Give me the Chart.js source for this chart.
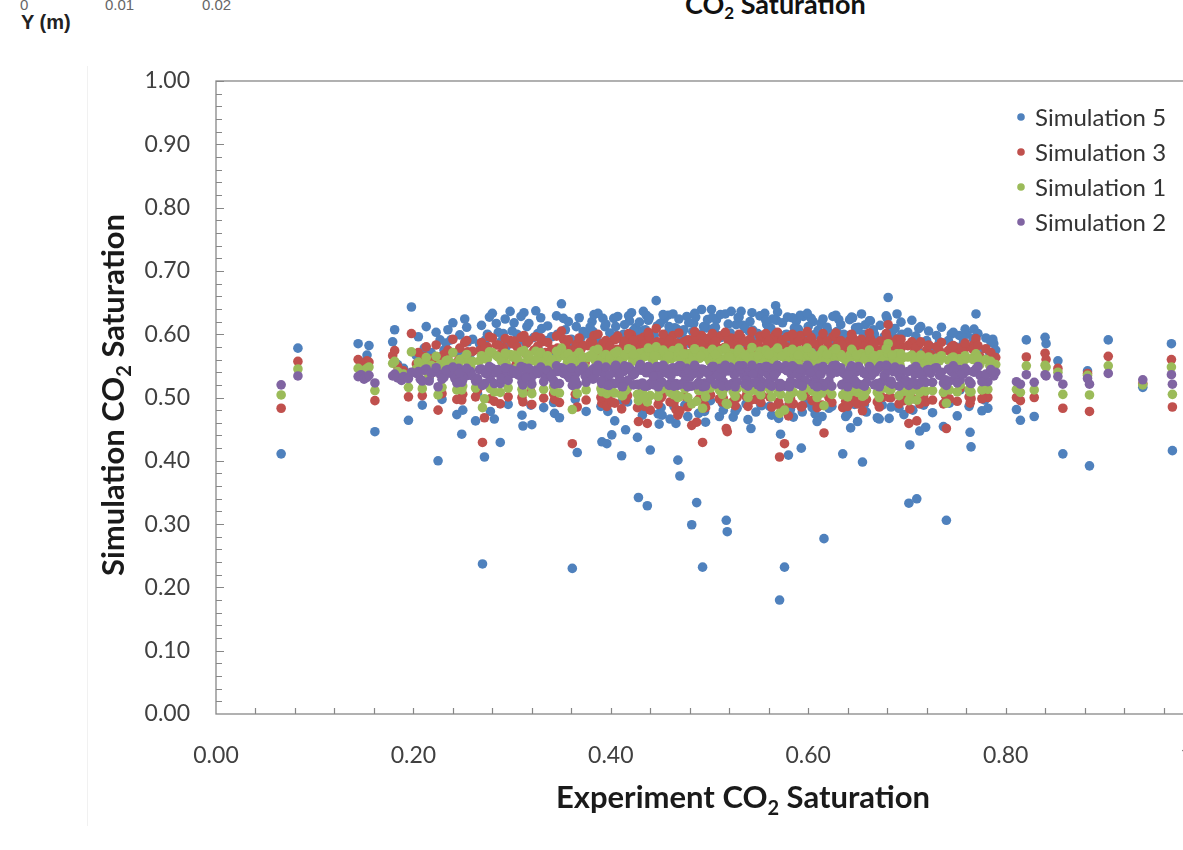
<!DOCTYPE html>
<html lang="en">
<head>
    <meta charset="UTF-8">
    <title>Simulation vs Experiment CO2 Saturation</title>
    <script src="https://cdn.jsdelivr.net/npm/chart.js"></script>
    <style>
        body {
            margin: 0;
            background: white;
            overflow: hidden;
            width: 1183px;
            height: 850px;
            position: relative;
            font-family: 'Lato', sans-serif;
        }

        .frag {
            position: absolute;
            top: -3px;
            font-family: 'Liberation Sans', Arial, sans-serif;
            color: #666;
            font-size: 15px;
            line-height: 1;
        }

        .ylab {
            position: absolute;
            left: 21px;
            top: 11px;
            font-family: 'Liberation Sans', Arial, sans-serif;
            font-weight: bold;
            font-size: 20px;
            color: #222;
        }

        .toptitle {
            position: absolute;
            left: 685px;
            top: -13px;
            font-family: 'Lato', sans-serif;
            font-weight: bold;
            font-size: 27px;
            color: #111;
            white-space: nowrap;
        }

        .toptitle sub {
            font-size: 17px;
            vertical-align: -5px;
        }

        .sheet {
            position: absolute;
            left: 87px;
            top: 66px;
            width: 1200px;
            height: 760px;
            border-left: 1px solid #f1f1f1;
        }

        #satChart {
            position: absolute;
            left: 0;
            top: 0;
        }
    </style>
</head>
<body>
    <!-- bits of the figure above, cut off by the crop -->
    <div class="frag" style="left:20px;">0</div>
    <div class="frag" style="left:105px;">0.01</div>
    <div class="frag" style="left:202px;">0.02</div>
    <div class="ylab">Y (m)</div>
    <div class="toptitle">CO<sub>2</sub> Saturation</div>
    <div class="sheet"></div>

    <canvas id="satChart" width="1240" height="850"></canvas>

    <script>
        // experiment saturation, one entry per measured cell
        const expSat = [
            0.066, 0.083, 0.144, 0.147, 0.150, 0.153, 0.155, 0.161, 0.179, 0.181,
            0.184, 0.188, 0.190, 0.195, 0.198, 0.203, 0.207, 0.211, 0.216, 0.221,
            0.225, 0.227, 0.231, 0.235, 0.238, 0.242, 0.246, 0.249, 0.250, 0.252,
            0.255, 0.258, 0.263, 0.267, 0.270, 0.272, 0.275, 0.278, 0.280, 0.284,
            0.288, 0.291, 0.294, 0.298, 0.300, 0.304, 0.307, 0.310, 0.311, 0.312,
            0.315, 0.319, 0.322, 0.324, 0.327, 0.330, 0.334, 0.338, 0.342, 0.343,
            0.346, 0.350, 0.352, 0.356, 0.358, 0.361, 0.363, 0.365, 0.366, 0.370,
            0.374, 0.377, 0.381, 0.384, 0.388, 0.391, 0.392, 0.394, 0.396, 0.397,
            0.401, 0.403, 0.406, 0.409, 0.411, 0.413, 0.415, 0.419, 0.422, 0.425,
            0.427, 0.428, 0.431, 0.433, 0.436, 0.437, 0.440, 0.442, 0.446, 0.449,
            0.450, 0.452, 0.455, 0.458, 0.461, 0.465, 0.466, 0.468, 0.470, 0.473,
            0.477, 0.480, 0.482, 0.484, 0.487, 0.490, 0.492, 0.493, 0.495, 0.497,
            0.500, 0.502, 0.505, 0.507, 0.510, 0.512, 0.515, 0.517, 0.518, 0.522,
            0.525, 0.527, 0.528, 0.532, 0.535, 0.538, 0.540, 0.542, 0.545, 0.548,
            0.550, 0.553, 0.556, 0.559, 0.562, 0.565, 0.567, 0.568, 0.571, 0.572,
            0.576, 0.578, 0.580, 0.583, 0.585, 0.588, 0.591, 0.593, 0.595, 0.598,
            0.602, 0.604, 0.605, 0.608, 0.611, 0.614, 0.616, 0.620, 0.623, 0.627,
            0.631, 0.635, 0.636, 0.639, 0.642, 0.643, 0.648, 0.650, 0.652, 0.654,
            0.655, 0.658, 0.661, 0.664, 0.668, 0.671, 0.675, 0.678, 0.681, 0.682,
            0.686, 0.690, 0.693, 0.695, 0.699, 0.702, 0.703, 0.705, 0.708, 0.710,
            0.712, 0.713, 0.716, 0.719, 0.720, 0.724, 0.728, 0.733, 0.737, 0.740,
            0.743, 0.745, 0.749, 0.753, 0.754, 0.757, 0.761, 0.764, 0.765, 0.768,
            0.770, 0.774, 0.779, 0.782, 0.784, 0.787, 0.788, 0.811, 0.815, 0.821,
            0.829, 0.840, 0.841, 0.853, 0.858, 0.883, 0.885, 0.904, 0.939, 0.968,
            0.969,
            // cells in between, inside the crowded middle
            0.205, 0.209, 0.213, 0.218, 0.223, 0.229, 0.233, 0.240, 0.244, 0.247,
            0.254, 0.260, 0.265, 0.269, 0.273, 0.277, 0.282, 0.286, 0.289, 0.293,
            0.296, 0.302, 0.305, 0.309, 0.314, 0.317, 0.320, 0.326, 0.329, 0.332,
            0.336, 0.340, 0.345, 0.348, 0.354, 0.357, 0.360, 0.364, 0.368, 0.372,
            0.375, 0.379, 0.383, 0.386, 0.390, 0.395, 0.399, 0.404, 0.407, 0.410,
            0.414, 0.417, 0.421, 0.424, 0.429, 0.432, 0.435, 0.439, 0.443, 0.447,
            0.451, 0.454, 0.457, 0.460, 0.463, 0.467, 0.471, 0.475, 0.479, 0.483,
            0.486, 0.489, 0.494, 0.498, 0.501, 0.504, 0.508, 0.511, 0.514, 0.519,
            0.521, 0.524, 0.529, 0.531, 0.534, 0.537, 0.541, 0.544, 0.547, 0.551,
            0.554, 0.558, 0.561, 0.564, 0.566, 0.570, 0.574, 0.577, 0.579, 0.582,
            0.586, 0.589, 0.592, 0.597, 0.600, 0.603, 0.607, 0.610, 0.613, 0.618,
            0.621, 0.625, 0.629, 0.633, 0.638, 0.641, 0.645, 0.647, 0.651, 0.656,
            0.659, 0.663, 0.666, 0.670, 0.673, 0.677, 0.680, 0.684, 0.688, 0.691,
            0.694, 0.697, 0.701, 0.706, 0.709, 0.714, 0.717, 0.722, 0.726, 0.730,
            0.735, 0.739, 0.742, 0.747, 0.751, 0.756, 0.759, 0.763, 0.767, 0.772,
            0.776, 0.780, 0.785, 0.790,
            // densest stretch, 0.38 - 0.70
            0.382, 0.387, 0.398, 0.405, 0.412, 0.418, 0.423, 0.430, 0.434, 0.438,
            0.444, 0.448, 0.453, 0.459, 0.464, 0.469, 0.474, 0.478, 0.485, 0.491,
            0.496, 0.503, 0.506, 0.513, 0.516, 0.520, 0.526, 0.530, 0.536, 0.539,
            0.543, 0.549, 0.552, 0.557, 0.560, 0.563, 0.569, 0.573, 0.581, 0.584,
            0.590, 0.594, 0.599, 0.606, 0.609, 0.615, 0.619, 0.624, 0.628, 0.634,
            0.640, 0.644, 0.649, 0.657, 0.662, 0.667, 0.672, 0.679, 0.685, 0.692
        ];

        const sim5 = [
            0.411, 0.578, 0.585, 0.548, 0.556, 0.567, 0.582, 0.446, 0.588, 0.607,
            0.552, 0.530, 0.546, 0.464, 0.643, 0.566, 0.552, 0.578, 0.531, 0.560,
            0.400, 0.591, 0.575, 0.607, 0.591, 0.545, 0.572, 0.442, 0.480, 0.624,
            0.588, 0.570, 0.463, 0.585, 0.237, 0.406, 0.600, 0.478, 0.633, 0.617,
            0.429, 0.601, 0.580, 0.636, 0.605, 0.560, 0.590, 0.472, 0.455, 0.634,
            0.612, 0.488, 0.595, 0.637, 0.575, 0.609, 0.590, 0.565, 0.492, 0.475,
            0.600, 0.648, 0.625, 0.585, 0.540, 0.230, 0.580, 0.612, 0.413, 0.595,
            0.560, 0.600, 0.620, 0.590, 0.570, 0.430, 0.625, 0.612, 0.427, 0.478,
            0.441, 0.625, 0.598, 0.545, 0.408, 0.600, 0.449, 0.621, 0.590, 0.610,
            0.437, 0.342, 0.605, 0.636, 0.630, 0.329, 0.417, 0.600, 0.653, 0.458,
            0.617, 0.472, 0.590, 0.630, 0.600, 0.610, 0.459, 0.401, 0.376, 0.595,
            0.628, 0.585, 0.299, 0.617, 0.334, 0.600, 0.639, 0.232, 0.478, 0.610,
            0.590, 0.639, 0.580, 0.623, 0.470, 0.595, 0.600, 0.306, 0.288, 0.636,
            0.590, 0.615, 0.483, 0.636, 0.585, 0.500, 0.605, 0.451, 0.590, 0.600,
            0.548, 0.487, 0.633, 0.580, 0.610, 0.590, 0.645, 0.622, 0.180, 0.442,
            0.232, 0.600, 0.409, 0.590, 0.469, 0.621, 0.570, 0.420, 0.628, 0.600,
            0.585, 0.484, 0.620, 0.575, 0.600, 0.470, 0.277, 0.605, 0.590, 0.580,
            0.623, 0.411, 0.600, 0.585, 0.623, 0.452, 0.610, 0.462, 0.590, 0.632,
            0.398, 0.615, 0.580, 0.600, 0.575, 0.590, 0.488, 0.560, 0.658, 0.467,
            0.595, 0.632, 0.570, 0.600, 0.500, 0.333, 0.425, 0.622, 0.590, 0.340,
            0.609, 0.447, 0.570, 0.453, 0.590, 0.580, 0.570, 0.588, 0.454, 0.306,
            0.491, 0.600, 0.580, 0.598, 0.512, 0.585, 0.600, 0.445, 0.422, 0.608,
            0.632, 0.575, 0.496, 0.483, 0.570, 0.592, 0.585, 0.481, 0.464, 0.591,
            0.470, 0.595, 0.585, 0.558, 0.411, 0.542, 0.392, 0.591, 0.516, 0.585,
            0.416,
            0.596, 0.488, 0.612, 0.571, 0.603, 0.497, 0.586, 0.618, 0.473, 0.599,
            0.611, 0.592, 0.506, 0.614, 0.591, 0.627, 0.466, 0.603, 0.589, 0.624,
            0.489, 0.618, 0.600, 0.628, 0.585, 0.617, 0.457, 0.601, 0.626, 0.484,
            0.613, 0.596, 0.629, 0.468, 0.607, 0.620, 0.592, 0.497, 0.626, 0.604,
            0.478, 0.611, 0.631, 0.597, 0.486, 0.616, 0.602, 0.463, 0.628, 0.593,
            0.615, 0.493, 0.634, 0.600, 0.619, 0.472, 0.607, 0.626, 0.589, 0.613,
            0.484, 0.624, 0.601, 0.466, 0.632, 0.608, 0.596, 0.488, 0.618, 0.604,
            0.627, 0.475, 0.612, 0.623, 0.495, 0.609, 0.598, 0.631, 0.480, 0.616,
            0.602, 0.469, 0.626, 0.592, 0.614, 0.490, 0.620, 0.606, 0.477, 0.629,
            0.596, 0.615, 0.486, 0.624, 0.603, 0.467, 0.618, 0.599, 0.627, 0.481,
            0.610, 0.594, 0.630, 0.491, 0.612, 0.625, 0.474, 0.606, 0.617, 0.592,
            0.483, 0.628, 0.604, 0.615, 0.470, 0.598, 0.626, 0.489, 0.611, 0.600,
            0.477, 0.621, 0.607, 0.468, 0.614, 0.596, 0.625, 0.485, 0.609, 0.594,
            0.619, 0.473, 0.603, 0.480, 0.597, 0.612, 0.488, 0.605, 0.476, 0.598,
            0.611, 0.492, 0.590, 0.603, 0.471, 0.596, 0.608, 0.486, 0.593, 0.601,
            0.479, 0.594, 0.588, 0.575,
            0.604, 0.633, 0.587, 0.612, 0.495, 0.629, 0.606, 0.588, 0.480, 0.622,
            0.598, 0.474, 0.631, 0.612, 0.486, 0.624, 0.607, 0.470, 0.633, 0.598,
            0.461, 0.626, 0.611, 0.491, 0.632, 0.594, 0.478, 0.627, 0.609, 0.465,
            0.634, 0.601, 0.488, 0.622, 0.610, 0.472, 0.635, 0.597, 0.490, 0.626,
            0.608, 0.477, 0.633, 0.599, 0.462, 0.624, 0.611, 0.486, 0.630, 0.596,
            0.474, 0.627, 0.607, 0.489, 0.621, 0.600, 0.466, 0.629, 0.605, 0.483
        ];

        const sim3 = [
            0.483, 0.557, 0.560, 0.544, 0.551, 0.558, 0.556, 0.495, 0.566, 0.574,
            0.549, 0.533, 0.542, 0.501, 0.601, 0.553, 0.547, 0.565, 0.534, 0.556,
            0.480, 0.564, 0.568, 0.575, 0.570, 0.545, 0.560, 0.496, 0.505, 0.587,
            0.572, 0.557, 0.501, 0.574, 0.429, 0.468, 0.580, 0.498, 0.594, 0.583,
            0.490, 0.579, 0.567, 0.590, 0.585, 0.552, 0.572, 0.500, 0.493, 0.598,
            0.586, 0.509, 0.575, 0.596, 0.563, 0.588, 0.571, 0.558, 0.506, 0.497,
            0.578, 0.605, 0.592, 0.570, 0.541, 0.427, 0.568, 0.584, 0.485, 0.577,
            0.555, 0.582, 0.589, 0.574, 0.561, 0.491, 0.586, 0.579, 0.486, 0.500,
            0.493, 0.591, 0.576, 0.544, 0.482, 0.583, 0.496, 0.588, 0.573, 0.581,
            0.484, 0.462, 0.579, 0.595, 0.589, 0.459, 0.480, 0.577, 0.609, 0.498,
            0.586, 0.503, 0.574, 0.592, 0.578, 0.584, 0.481, 0.472, 0.479, 0.576,
            0.590, 0.569, 0.456, 0.585, 0.461, 0.580, 0.598, 0.429, 0.488, 0.584,
            0.575, 0.596, 0.567, 0.590, 0.498, 0.577, 0.579, 0.451, 0.446, 0.594,
            0.575, 0.586, 0.500, 0.595, 0.572, 0.510, 0.582, 0.496, 0.574, 0.580,
            0.546, 0.503, 0.593, 0.568, 0.584, 0.575, 0.600, 0.588, 0.406, 0.485,
            0.427, 0.580, 0.471, 0.575, 0.490, 0.588, 0.562, 0.485, 0.590, 0.580,
            0.572, 0.495, 0.586, 0.565, 0.580, 0.488, 0.444, 0.582, 0.575, 0.568,
            0.588, 0.484, 0.580, 0.572, 0.590, 0.492, 0.584, 0.490, 0.575, 0.592,
            0.479, 0.585, 0.568, 0.580, 0.565, 0.575, 0.500, 0.555, 0.615, 0.500,
            0.577, 0.592, 0.562, 0.580, 0.510, 0.459, 0.482, 0.588, 0.575, 0.463,
            0.583, 0.490, 0.562, 0.493, 0.575, 0.568, 0.560, 0.574, 0.490, 0.451,
            0.498, 0.580, 0.570, 0.578, 0.515, 0.572, 0.580, 0.491, 0.498, 0.584,
            0.593, 0.565, 0.505, 0.500, 0.560, 0.564, 0.562, 0.500, 0.495, 0.564,
            0.500, 0.570, 0.560, 0.546, 0.483, 0.538, 0.478, 0.565, 0.522, 0.560,
            0.485,
            0.571, 0.503, 0.580, 0.561, 0.583, 0.506, 0.569, 0.592, 0.497, 0.578,
            0.590, 0.573, 0.512, 0.587, 0.577, 0.596, 0.494, 0.583, 0.570, 0.593,
            0.501, 0.589, 0.580, 0.595, 0.569, 0.590, 0.489, 0.581, 0.594, 0.499,
            0.587, 0.576, 0.597, 0.492, 0.584, 0.591, 0.575, 0.505, 0.594, 0.582,
            0.496, 0.587, 0.598, 0.578, 0.500, 0.590, 0.581, 0.491, 0.597, 0.575,
            0.589, 0.503, 0.599, 0.580, 0.592, 0.495, 0.585, 0.596, 0.571, 0.588,
            0.500, 0.594, 0.582, 0.493, 0.598, 0.586, 0.577, 0.502, 0.591, 0.583,
            0.596, 0.497, 0.588, 0.593, 0.504, 0.586, 0.578, 0.597, 0.499, 0.590,
            0.581, 0.494, 0.595, 0.574, 0.589, 0.502, 0.592, 0.584, 0.497, 0.597,
            0.578, 0.590, 0.501, 0.594, 0.583, 0.493, 0.591, 0.579, 0.596, 0.499,
            0.587, 0.576, 0.598, 0.503, 0.588, 0.595, 0.496, 0.584, 0.591, 0.575,
            0.500, 0.596, 0.583, 0.590, 0.494, 0.579, 0.595, 0.502, 0.588, 0.581,
            0.497, 0.593, 0.585, 0.493, 0.589, 0.578, 0.595, 0.500, 0.586, 0.576,
            0.592, 0.495, 0.582, 0.498, 0.579, 0.588, 0.501, 0.583, 0.496, 0.580,
            0.587, 0.503, 0.574, 0.582, 0.494, 0.578, 0.586, 0.501, 0.576, 0.582,
            0.498, 0.577, 0.571, 0.563,
            0.585, 0.600, 0.568, 0.592, 0.507, 0.601, 0.590, 0.567, 0.486, 0.603,
            0.586, 0.489, 0.600, 0.590, 0.492, 0.602, 0.588, 0.485, 0.604, 0.584,
            0.484, 0.601, 0.589, 0.493, 0.603, 0.582, 0.487, 0.600, 0.588, 0.486,
            0.604, 0.585, 0.492, 0.601, 0.589, 0.485, 0.603, 0.584, 0.491, 0.600,
            0.588, 0.487, 0.604, 0.585, 0.484, 0.601, 0.589, 0.492, 0.602, 0.583,
            0.486, 0.600, 0.588, 0.493, 0.602, 0.586, 0.485, 0.601, 0.587, 0.490
        ];

        const sim1 = [
            0.504, 0.545, 0.546, 0.540, 0.543, 0.546, 0.548, 0.511, 0.554, 0.557,
            0.541, 0.536, 0.537, 0.516, 0.572, 0.545, 0.541, 0.552, 0.535, 0.548,
            0.504, 0.552, 0.549, 0.559, 0.555, 0.540, 0.553, 0.512, 0.518, 0.563,
            0.556, 0.549, 0.515, 0.558, 0.484, 0.498, 0.561, 0.514, 0.571, 0.566,
            0.508, 0.562, 0.553, 0.568, 0.564, 0.546, 0.557, 0.513, 0.507, 0.574,
            0.566, 0.518, 0.558, 0.573, 0.551, 0.567, 0.557, 0.547, 0.517, 0.510,
            0.562, 0.578, 0.569, 0.555, 0.539, 0.481, 0.553, 0.566, 0.506, 0.560,
            0.548, 0.563, 0.567, 0.559, 0.551, 0.509, 0.565, 0.561, 0.506, 0.515,
            0.510, 0.569, 0.560, 0.541, 0.503, 0.563, 0.511, 0.567, 0.557, 0.565,
            0.505, 0.495, 0.562, 0.571, 0.568, 0.493, 0.503, 0.561, 0.580, 0.512,
            0.566, 0.514, 0.558, 0.570, 0.561, 0.564, 0.505, 0.500, 0.502, 0.559,
            0.568, 0.556, 0.490, 0.565, 0.494, 0.562, 0.573, 0.483, 0.508, 0.564,
            0.558, 0.571, 0.554, 0.567, 0.512, 0.560, 0.561, 0.491, 0.489, 0.570,
            0.558, 0.565, 0.514, 0.571, 0.556, 0.518, 0.562, 0.511, 0.558, 0.562,
            0.541, 0.515, 0.569, 0.554, 0.564, 0.559, 0.574, 0.566, 0.475, 0.505,
            0.480, 0.562, 0.498, 0.558, 0.508, 0.566, 0.551, 0.505, 0.568, 0.562,
            0.556, 0.510, 0.566, 0.552, 0.562, 0.507, 0.487, 0.563, 0.558, 0.554,
            0.567, 0.504, 0.562, 0.556, 0.567, 0.509, 0.564, 0.508, 0.558, 0.569,
            0.502, 0.565, 0.554, 0.562, 0.552, 0.558, 0.514, 0.547, 0.585, 0.512,
            0.560, 0.569, 0.551, 0.562, 0.518, 0.495, 0.505, 0.567, 0.558, 0.496,
            0.564, 0.508, 0.551, 0.510, 0.558, 0.554, 0.550, 0.558, 0.508, 0.491,
            0.512, 0.562, 0.555, 0.561, 0.520, 0.556, 0.562, 0.509, 0.509, 0.564,
            0.569, 0.552, 0.515, 0.513, 0.550, 0.553, 0.552, 0.513, 0.508, 0.550,
            0.512, 0.551, 0.548, 0.540, 0.505, 0.535, 0.504, 0.550, 0.520, 0.548,
            0.505,
            0.556, 0.514, 0.563, 0.551, 0.565, 0.516, 0.558, 0.571, 0.512, 0.560,
            0.568, 0.557, 0.519, 0.566, 0.561, 0.572, 0.509, 0.564, 0.558, 0.570,
            0.515, 0.567, 0.562, 0.572, 0.555, 0.567, 0.506, 0.563, 0.571, 0.513,
            0.566, 0.560, 0.573, 0.507, 0.565, 0.569, 0.559, 0.516, 0.571, 0.564,
            0.512, 0.566, 0.574, 0.561, 0.514, 0.568, 0.563, 0.507, 0.573, 0.559,
            0.568, 0.515, 0.575, 0.562, 0.570, 0.510, 0.565, 0.572, 0.558, 0.567,
            0.513, 0.571, 0.563, 0.508, 0.574, 0.566, 0.561, 0.514, 0.569, 0.564,
            0.572, 0.511, 0.567, 0.570, 0.515, 0.566, 0.561, 0.574, 0.512, 0.568,
            0.563, 0.509, 0.572, 0.559, 0.567, 0.514, 0.570, 0.565, 0.511, 0.573,
            0.561, 0.568, 0.513, 0.571, 0.564, 0.508, 0.569, 0.562, 0.572, 0.513,
            0.566, 0.560, 0.574, 0.515, 0.567, 0.571, 0.510, 0.565, 0.569, 0.560,
            0.513, 0.573, 0.564, 0.568, 0.509, 0.562, 0.572, 0.514, 0.567, 0.563,
            0.511, 0.570, 0.565, 0.508, 0.568, 0.561, 0.571, 0.513, 0.566, 0.560,
            0.569, 0.510, 0.564, 0.512, 0.562, 0.567, 0.514, 0.564, 0.511, 0.562,
            0.566, 0.515, 0.559, 0.564, 0.509, 0.561, 0.566, 0.513, 0.560, 0.563,
            0.512, 0.560, 0.557, 0.552,
            0.566, 0.576, 0.552, 0.571, 0.503, 0.577, 0.568, 0.553, 0.501, 0.578,
            0.566, 0.502, 0.575, 0.566, 0.504, 0.578, 0.569, 0.500, 0.577, 0.565,
            0.501, 0.576, 0.568, 0.505, 0.578, 0.564, 0.502, 0.576, 0.567, 0.500,
            0.579, 0.566, 0.504, 0.575, 0.568, 0.501, 0.578, 0.565, 0.503, 0.576,
            0.567, 0.502, 0.578, 0.566, 0.500, 0.575, 0.568, 0.505, 0.577, 0.565,
            0.501, 0.576, 0.567, 0.504, 0.575, 0.566, 0.500, 0.577, 0.567, 0.503
        ];

        const sim2 = [
            0.520, 0.534, 0.533, 0.536, 0.529, 0.532, 0.535, 0.523, 0.534, 0.537,
            0.531, 0.527, 0.533, 0.530, 0.540, 0.538, 0.529, 0.543, 0.526, 0.540,
            0.517, 0.537, 0.532, 0.544, 0.538, 0.530, 0.546, 0.524, 0.528, 0.542,
            0.535, 0.541, 0.526, 0.544, 0.519, 0.522, 0.537, 0.529, 0.546, 0.539,
            0.522, 0.543, 0.533, 0.545, 0.538, 0.541, 0.535, 0.524, 0.520, 0.547,
            0.540, 0.528, 0.536, 0.543, 0.538, 0.544, 0.532, 0.539, 0.527, 0.521,
            0.541, 0.547, 0.538, 0.535, 0.531, 0.519, 0.542, 0.539, 0.521, 0.545,
            0.534, 0.540, 0.543, 0.536, 0.541, 0.522, 0.544, 0.533, 0.520, 0.527,
            0.523, 0.546, 0.538, 0.529, 0.518, 0.541, 0.525, 0.544, 0.535, 0.540,
            0.521, 0.520, 0.543, 0.547, 0.539, 0.518, 0.522, 0.542, 0.548, 0.526,
            0.537, 0.524, 0.541, 0.545, 0.534, 0.543, 0.522, 0.519, 0.521, 0.538,
            0.546, 0.532, 0.518, 0.541, 0.520, 0.537, 0.545, 0.517, 0.523, 0.542,
            0.535, 0.547, 0.540, 0.543, 0.524, 0.533, 0.541, 0.519, 0.518, 0.546,
            0.536, 0.542, 0.525, 0.544, 0.534, 0.528, 0.541, 0.523, 0.539, 0.545,
            0.531, 0.525, 0.543, 0.537, 0.546, 0.533, 0.547, 0.540, 0.517, 0.522,
            0.518, 0.543, 0.520, 0.536, 0.523, 0.545, 0.534, 0.521, 0.541, 0.546,
            0.538, 0.524, 0.543, 0.532, 0.540, 0.523, 0.518, 0.544, 0.536, 0.541,
            0.546, 0.521, 0.538, 0.533, 0.544, 0.523, 0.540, 0.522, 0.545, 0.542,
            0.520, 0.537, 0.543, 0.534, 0.540, 0.546, 0.525, 0.536, 0.548, 0.524,
            0.541, 0.544, 0.532, 0.539, 0.527, 0.519, 0.521, 0.545, 0.537, 0.520,
            0.542, 0.523, 0.534, 0.524, 0.543, 0.538, 0.546, 0.535, 0.523, 0.519,
            0.526, 0.541, 0.533, 0.544, 0.528, 0.537, 0.542, 0.523, 0.522, 0.540,
            0.545, 0.535, 0.526, 0.525, 0.539, 0.538, 0.534, 0.525, 0.521, 0.536,
            0.524, 0.536, 0.534, 0.533, 0.521, 0.530, 0.521, 0.538, 0.528, 0.536,
            0.521,
            0.541, 0.526, 0.545, 0.538, 0.547, 0.529, 0.543, 0.548, 0.523, 0.539,
            0.546, 0.534, 0.530, 0.545, 0.538, 0.549, 0.522, 0.544, 0.530, 0.547,
            0.527, 0.542, 0.537, 0.549, 0.531, 0.546, 0.521, 0.540, 0.548, 0.525,
            0.543, 0.535, 0.550, 0.522, 0.544, 0.540, 0.547, 0.528, 0.543, 0.549,
            0.524, 0.538, 0.546, 0.541, 0.526, 0.548, 0.536, 0.522, 0.545, 0.539,
            0.550, 0.527, 0.543, 0.537, 0.548, 0.523, 0.541, 0.546, 0.533, 0.549,
            0.525, 0.544, 0.538, 0.522, 0.547, 0.541, 0.550, 0.526, 0.543, 0.537,
            0.548, 0.524, 0.544, 0.539, 0.528, 0.549, 0.535, 0.546, 0.525, 0.542,
            0.548, 0.523, 0.540, 0.545, 0.550, 0.527, 0.543, 0.537, 0.524, 0.547,
            0.541, 0.549, 0.526, 0.544, 0.536, 0.522, 0.546, 0.550, 0.542, 0.525,
            0.547, 0.538, 0.545, 0.527, 0.549, 0.541, 0.523, 0.546, 0.537, 0.544,
            0.526, 0.550, 0.540, 0.547, 0.523, 0.536, 0.545, 0.527, 0.549, 0.539,
            0.524, 0.546, 0.541, 0.522, 0.550, 0.535, 0.544, 0.526, 0.548, 0.538,
            0.545, 0.523, 0.541, 0.525, 0.549, 0.536, 0.527, 0.544, 0.524, 0.547,
            0.540, 0.528, 0.545, 0.550, 0.523, 0.538, 0.546, 0.526, 0.541, 0.549,
            0.525, 0.537, 0.544, 0.540,
            0.529, 0.551, 0.519, 0.551, 0.517, 0.548, 0.520, 0.552, 0.518, 0.549,
            0.520, 0.517, 0.551, 0.519, 0.518, 0.550, 0.521, 0.517, 0.551, 0.520,
            0.518, 0.549, 0.521, 0.518, 0.551, 0.520, 0.517, 0.550, 0.521, 0.518,
            0.551, 0.520, 0.517, 0.549, 0.521, 0.518, 0.551, 0.519, 0.517, 0.550,
            0.521, 0.518, 0.551, 0.520, 0.517, 0.549, 0.521, 0.518, 0.551, 0.520,
            0.517, 0.550, 0.521, 0.518, 0.549, 0.520, 0.517, 0.551, 0.521, 0.518
        ];

        const seriesNames = ['Simulation 5', 'Simulation 3', 'Simulation 1', 'Simulation 2'];
        const seriesColors = ['#4F81BD', '#C0504D', '#9BBB59', '#8064A2'];
        const seriesValues = [sim5, sim3, sim1, sim2];

        const xTicks = [0, 0.2, 0.4, 0.6, 0.8, 1.0];
        const yTicks = [0, 0.1, 0.2, 0.3, 0.4, 0.5, 0.6, 0.7, 0.8, 0.9, 1.0];

        const axisGray = '#878787';
        const labelColor = '#404040';

        function toPoints(ys) {
            return expSat.map((x, i) => ({ x: x, y: ys[i] }));
        }

        // plot border on all four sides plus the little inward tick marks
        const frameAndTicks = {
            id: 'frameAndTicks',
            beforeDatasetsDraw(chart) {
                const c = chart.ctx;
                const a = chart.chartArea;
                const xs = chart.scales.x;
                const ys = chart.scales.y;
                c.save();
                c.strokeStyle = axisGray;
                c.lineWidth = 1.3;
                c.strokeRect(a.left, a.top, a.right - a.left, a.bottom - a.top);

                c.lineWidth = 1.2;
                c.beginPath();
                // x: a tick every 0.04
                for (let i = 1; i <= 25; i++) {
                    const px = Math.round(xs.getPixelForValue(i * 0.04)) + 0.5;
                    c.moveTo(px, a.bottom);
                    c.lineTo(px, a.bottom - 6);
                }
                // y: a tick every 0.02, longer at the labelled ones
                for (let i = 1; i <= 50; i++) {
                    const py = Math.round(ys.getPixelForValue(i * 0.02)) + 0.5;
                    c.moveTo(a.left, py);
                    c.lineTo(a.left + (i % 5 === 0 ? 8 : 6), py);
                }
                c.stroke();
                c.restore();
            }
        };

        // draw "... CO2 Saturation" with a real subscript
        function drawSubTitle(c, x, y, before, after, size) {
            const big = 'bold ' + size + 'px Lato';
            const small = 'bold ' + Math.round(size * 0.65) + 'px Lato';
            c.font = big;
            const w1 = c.measureText(before).width;
            const w3 = c.measureText(after).width;
            c.font = small;
            const w2 = c.measureText('2').width;
            let cx = x - (w1 + w2 + w3) / 2;
            c.textAlign = 'left';
            c.textBaseline = 'alphabetic';
            c.font = big;
            c.fillText(before, cx, y);
            cx += w1;
            c.font = small;
            c.fillText('2', cx, y + size * 0.22);
            cx += w2;
            c.font = big;
            c.fillText(after, cx, y);
        }

        const axisTitles = {
            id: 'axisTitles',
            afterDraw(chart) {
                const c = chart.ctx;
                c.save();
                c.fillStyle = '#1a1a1a';
                drawSubTitle(c, 743, 808, 'Experiment CO', ' Saturation', 31);
                c.translate(124, 395);
                c.rotate(-Math.PI / 2);
                drawSubTitle(c, 0, 0, 'Simulation CO', ' Saturation', 31);
                c.restore();
            }
        };

        // legend sits inside the plot, top right
        const insideLegend = {
            id: 'insideLegend',
            afterDraw(chart) {
                const c = chart.ctx;
                c.save();
                c.font = '24px Lato';
                c.textBaseline = 'middle';
                c.textAlign = 'left';
                chart.data.datasets.forEach((ds, i) => {
                    const y = 117 + i * 35;
                    c.fillStyle = ds.backgroundColor;
                    c.beginPath();
                    c.arc(1021, y, 3.8, 0, Math.PI * 2);
                    c.fill();
                    c.fillStyle = '#333';
                    c.fillText(ds.label, 1035, y + 1);
                });
                c.restore();
            }
        };

        const ctx = document.getElementById('satChart').getContext('2d');

        const satChart = new Chart(ctx, {
            type: 'scatter',
            data: {
                datasets: seriesNames.map((name, i) => ({
                    label: name,
                    data: toPoints(seriesValues[i]),
                    backgroundColor: seriesColors[i],
                    borderWidth: 0,
                    pointRadius: 4.8,
                    pointHoverRadius: 4.8,
                    order: seriesNames.length - i
                }))
            },
            options: {
                responsive: false,
                animation: false,
                devicePixelRatio: 1,
                layout: { padding: { top: 81, right: 37, left: 0, bottom: 0 } },
                plugins: {
                    legend: { display: false },
                    tooltip: { enabled: false }
                },
                scales: {
                    x: {
                        type: 'linear',
                        min: 0,
                        max: 1,
                        afterBuildTicks: s => { s.ticks = xTicks.map(v => ({ value: v })); },
                        afterFit: s => {
                            s.height = 136;
                            s.paddingLeft = 0;
                            s.paddingRight = 0;
                        },
                        ticks: {
                            callback: v => v.toFixed(2),
                            color: labelColor,
                            font: { family: 'Lato', size: 23 },
                            padding: 28,
                            maxRotation: 0
                        },
                        grid: { display: false, drawTicks: false },
                        border: { display: false }
                    },
                    y: {
                        min: 0,
                        max: 1,
                        afterBuildTicks: s => { s.ticks = yTicks.map(v => ({ value: v })); },
                        afterFit: s => {
                            s.width = 216;
                            s.paddingTop = 0;
                            s.paddingBottom = 0;
                        },
                        ticks: {
                            callback: v => v.toFixed(2),
                            color: labelColor,
                            font: { family: 'Lato', size: 23 },
                            padding: 26
                        },
                        grid: { display: false, drawTicks: false },
                        border: { display: false }
                    }
                }
            },
            plugins: [frameAndTicks, axisTitles, insideLegend]
        });
    </script>
</body>
</html>
